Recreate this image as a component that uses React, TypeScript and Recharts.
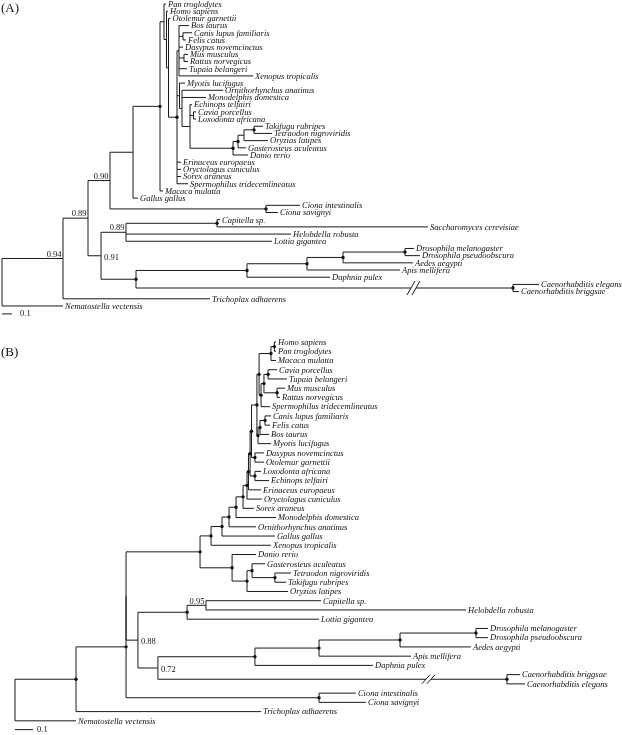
import React from 'react';
import { ScatterChart, Scatter, XAxis, YAxis, ReferenceLine } from 'recharts';

type Tip = [string, string, number];
type Inner = [string, string | null, number];

// ---------- Tree (A): tips in display order [name, parent node, depth from root] ----------
const taxaA: Tip[] = [
  ['Pan troglodytes', 'n164', 1.64],
  ['Homo sapiens', 'nX', 1.66],
  ['Otolemur garnettii', 'nY', 1.685],
  ['Bos taurus', 'n180', 1.87],
  ['Canis lupus familiaris', 'nCF', 1.9],
  ['Felis catus', 'nCF', 1.84],
  ['Dasypus novemcinctus', 'n180', 1.81],
  ['Mus musculus', 'nMR', 1.86],
  ['Rattus norvegicus', 'nMR', 1.86],
  ['Tupaia belangeri', 'n180', 1.85],
  ['Xenopus tropicalis', 'n180', 2.51],
  ['Myotis lucifugus', 'nM', 1.83],
  ['Ornithorhynchus anatinus', 'nO', 2.21],
  ['Monodelphis domestica', 'nO', 2.04],
  ['Echinops telfairi', 'nE', 1.9],
  ['Cavia porcellus', 'nCL', 1.94],
  ['Loxodonta africana', 'nCL', 1.94],
  ['Takifugu rubripes', 'nTT', 2.61],
  ['Tetraodon nigroviridis', 'nTT', 2.7],
  ['Oryzias latipes', 'nO2', 2.66],
  ['Gasterosteus aculeatus', 'nG2', 2.44],
  ['Danio rerio', 'nFish', 2.46],
  ['Erinaceus europaeus', 'n176', 1.79],
  ['Oryctolagus cuniculus', 'n176', 1.79],
  ['Sorex araneus', 'n176', 1.79],
  ['Spermophilus tridecemlineatus', 'n176', 1.86],
  ['Macaca mulatta', 'n160', 1.61],
  ['Gallus gallus', 'nVert', 1.36],
  ['Ciona intestinalis', 'nCiona', 2.98],
  ['Ciona savignyi', 'nCiona', 2.76],
  ['Capitella sp.', 'nCS', 2.18],
  ['Saccharomyces cerevisiae', 'nCS', 4.26],
  ['Helobdella robusta', 'n089b', 2.89],
  ['Lottia gigantea', 'n089b', 2.7],
  ['Drosophila melanogaster', 'nDros', 4.12],
  ['Drosophila pseudoobscura', 'nDros', 4.18],
  ['Aedes aegypti', 'nDip', 4.11],
  ['Apis mellifera', 'n307', 3.98],
  ['Daphnia pulex', 'nArth', 3.28],
  ['Caenorhabditis elegans', 'nNem', 5.37],
  ['Caenorhabditis briggsae', 'nNem', 5.17],
  ['Trichoplax adhaerens', 'n094', 2.08],
  ['Nematostella vectensis', 'rootA', 0.61],
];

// internal nodes [id, parent, depth]
const nodesA: Inner[] = [
  ['rootA', null, 0],
  ['n094', 'rootA', 0.61],
  ['n089', 'n094', 0.86],
  ['n090', 'n089', 1.08],
  ['nVert', 'n090', 1.31],
  ['n160', 'nVert', 1.58],
  ['n164', 'n160', 1.62],
  ['nX', 'n164', 1.645],
  ['nY', 'nX', 1.665],
  ['n176', 'nY', 1.75],
  ['n180', 'n176', 1.77],
  ['nCF', 'n180', 1.81],
  ['nMR', 'n180', 1.82],
  ['nM', 'n176', 1.775],
  ['nO', 'nM', 1.8],
  ['nE', 'nO', 1.88],
  ['nCL', 'nE', 1.915],
  ['nFish', 'nE', 2.31],
  ['nG2', 'nFish', 2.36],
  ['nO2', 'nG2', 2.42],
  ['nTT', 'nO2', 2.52],
  ['nCiona', 'n090', 2.64],
  ['n091', 'n089', 0.99],
  ['n089b', 'n091', 1.24],
  ['nCS', 'n089b', 2.15],
  ['n136', 'n091', 1.34],
  ['nArth', 'n136', 2.45],
  ['n307', 'nArth', 3.05],
  ['nDip', 'n307', 3.41],
  ['nDros', 'nDip', 4.03],
  ['nNem', 'n136', 5.11],
];

const supportA: [string, string][] = [
  ['n094', '0.94'],
  ['n089', '0.89'],
  ['n090', '0.90'],
  ['n089b', '0.89'],
  ['n091', '0.91'],
];
const dotsA: string[] = ['n160', 'n176', 'nFish', 'nG2', 'nTT', 'nCiona', 'nCS', 'n136', 'nArth', 'n307', 'nDip', 'nDros', 'nNem'];
const breakA: [string, number] = ['nNem', 4.115];

// ---------- Tree (B) ----------
const taxaB: Tip[] = [
  ['Homo sapiens', 'nBHP', 1.45],
  ['Pan troglodytes', 'nBHP', 1.45],
  ['Macaca mulatta', 'nBHPM', 1.45],
  ['Cavia porcellus', 'nBCT', 1.456],
  ['Tupaia belangeri', 'nBCT', 1.511],
  ['Mus musculus', 'nBMR', 1.5],
  ['Rattus norvegicus', 'nBMR', 1.472],
  ['Spermophilus tridecemlineatus', 'nBRS', 1.417],
  ['Canis lupus familiaris', 'nBCF', 1.422],
  ['Felis catus', 'nBCF', 1.417],
  ['Bos taurus', 'nBCFB', 1.411],
  ['Myotis lucifugus', 'nBLaur', 1.422],
  ['Dasypus novemcinctus', 'nBDO', 1.383],
  ['Otolemur garnettii', 'nBDO', 1.383],
  ['Loxodonta africana', 'nBLE', 1.367],
  ['Echinops telfairi', 'nBLE', 1.411],
  ['Erinaceus europaeus', 'nBN2p', 1.367],
  ['Oryctolagus cuniculus', 'nBE2', 1.372],
  ['Sorex araneus', 'nBE', 1.328],
  ['Monodelphis domestica', 'nBTh', 1.45],
  ['Ornithorhynchus anatinus', 'nBM', 1.339],
  ['Gallus gallus', 'nBA', 1.444],
  ['Xenopus tropicalis', 'nBT', 1.422],
  ['Danio rerio', 'nBFish', 1.339],
  ['Gasterosteus aculeatus', 'nBF2', 1.389],
  ['Tetraodon nigroviridis', 'nBTT', 1.533],
  ['Takifugu rubripes', 'nBTT', 1.506],
  ['Oryzias latipes', 'nBF1', 1.517],
  ['Capitella sp.', 'nB095', 1.7],
  ['Helobdella robusta', 'nB095', 2.506],
  ['Lottia gigantea', 'nB187', 1.689],
  ['Drosophila melanogaster', 'nBDros', 2.628],
  ['Drosophila pseudoobscura', 'nBDros', 2.628],
  ['Aedes aegypti', 'nBDip', 2.533],
  ['Apis mellifera', 'nBIns', 2.2],
  ['Daphnia pulex', 'nBArth', 1.989],
  ['Caenorhabditis briggsae', 'nBNem', 2.806],
  ['Caenorhabditis elegans', 'nBNem', 2.833],
  ['Ciona intestinalis', 'nBCiona', 1.894],
  ['Ciona savignyi', 'nBCiona', 1.95],
  ['Trichoplax adhaerens', 'nB76', 1.367],
  ['Nematostella vectensis', 'rootB', 0.339],
];

const nodesB: Inner[] = [
  ['rootB', null, 0],
  ['nB76', 'rootB', 0.339],
  ['nB126', 'nB76', 0.617],
  ['nBX', 'nB126', 0.617],
  ['nBV', 'nBX', 1.028],
  ['nBT', 'nBV', 1.089],
  ['nBA', 'nBT', 1.15],
  ['nBM', 'nBA', 1.189],
  ['nBTh', 'nBM', 1.228],
  ['nBE', 'nBTh', 1.267],
  ['nBE2', 'nBE', 1.289],
  ['nBN2p', 'nBE2', 1.297],
  ['nBN2', 'nBN2p', 1.306],
  ['nBN1', 'nBN2', 1.314],
  ['nBBore', 'nBN1', 1.344],
  ['nBPR', 'nBBore', 1.356],
  ['nBHPM', 'nBPR', 1.422],
  ['nBHP', 'nBHPM', 1.441],
  ['nBRS', 'nBPR', 1.367],
  ['nBCTMR', 'nBRS', 1.383],
  ['nBCT', 'nBCTMR', 1.406],
  ['nBMR', 'nBCTMR', 1.456],
  ['nBLaur', 'nBBore', 1.35],
  ['nBCFB', 'nBLaur', 1.361],
  ['nBCF', 'nBCFB', 1.389],
  ['nBDO', 'nBN1', 1.333],
  ['nBLE', 'nBN2', 1.333],
  ['nBFish', 'nBV', 1.206],
  ['nBF1', 'nBFish', 1.289],
  ['nBF2', 'nBF1', 1.317],
  ['nBTT', 'nBF2', 1.444],
  ['nB088', 'nBX', 0.683],
  ['nB187', 'nB088', 0.956],
  ['nB095', 'nB187', 1.061],
  ['nB072', 'nB088', 0.794],
  ['nBArth', 'nB072', 1.333],
  ['nBIns', 'nBArth', 1.689],
  ['nBDip', 'nBIns', 2.139],
  ['nBDros', 'nBDip', 2.561],
  ['nBNem', 'nB072', 2.733],
  ['nBCiona', 'nB126', 1.689],
];

const supportB: [string, string][] = [
  ['nB095', '0.95'],
  ['nB088', '0.88'],
  ['nB072', '0.72'],
];
const dotsB: string[] = [
  'nB76', 'nB126', 'nB187', 'nBV', 'nBT', 'nBA', 'nBM', 'nBTh', 'nBE', 'nBE2', 'nBN2p', 'nBN2', 'nBN1',
  'nBBore', 'nBPR', 'nBHPM', 'nBHP', 'nBRS', 'nBCTMR', 'nBCT', 'nBMR', 'nBLaur', 'nBCFB', 'nBCF', 'nBDO',
  'nBLE', 'nBFish', 'nBF1', 'nBF2', 'nBTT', 'nBArth', 'nBIns', 'nBDip', 'nBDros', 'nBNem', 'nBCiona',
];
const breakB: [string, number] = ['nBNem', 2.297];

const scaleBarLength = 0.1;

// ---------- rendering ----------
const FONT = '"Liberation Serif", "Times New Roman", Times, serif';
const INK = '#1a1a1a';

interface Geo { id: string; x: number; y: number; lo: number; hi: number; parent: string | null; leaf: boolean; kids: string[] }

function buildTree(taxa: Tip[], nodes: Inner[]) {
  const m: Record<string, Geo> = {};
  nodes.forEach(([id, p, d]) => { m[id] = { id, x: d, y: NaN, lo: NaN, hi: NaN, parent: p, leaf: false, kids: [] }; });
  taxa.forEach(([id, p, d], i) => { m[id] = { id, x: d, y: i, lo: i, hi: i, parent: p, leaf: true, kids: [] }; });
  Object.values(m).forEach(n => { if (n.parent) m[n.parent].kids.push(n.id); });
  const place = (id: string): number => {
    const n = m[id];
    if (!isNaN(n.y)) return n.y;
    const ys = n.kids.map(place);
    n.lo = Math.min(...ys);
    n.hi = Math.max(...ys);
    n.y = (n.lo + n.hi) / 2;
    return n.y;
  };
  Object.keys(m).forEach(place);
  const segs: { x1: number; y1: number; x2: number; y2: number }[] = [];
  Object.values(m).forEach(n => {
    if (n.parent) {
      const p = m[n.parent];
      if (p.x !== n.x) segs.push({ x1: p.x, y1: n.y, x2: n.x, y2: n.y });
    }
    if (!n.leaf) segs.push({ x1: n.x, y1: n.lo, x2: n.x, y2: n.hi });
  });
  return { m, segs };
}

interface View { ox: number; kx: number; oy: number; ky: number; w: number; h: number }

interface PanelProps {
  taxa: Tip[];
  nodes: Inner[];
  support: [string, string][];
  rightSide: string[];
  dots: string[];
  brk: [string, number];
  brkH: number;
  view: View;
  barRow: number;
  barDx: number;
}

function TreePanel({ taxa, nodes, support, rightSide, dots, brk, brkH, view, barRow, barDx }: PanelProps) {
  const { m, segs } = buildTree(taxa, nodes);
  const xDom: [number, number] = [-view.ox / view.kx, (view.w - view.ox) / view.kx];
  const yDom: [number, number] = [-view.oy / view.ky, (view.h - view.oy) / view.ky];
  const tips = taxa.map(([name]) => ({ x: m[name].x, y: m[name].y, name }));
  const dotPts = dots.map(id => ({ x: m[id].x, y: m[id].y }));
  const supPts = support.map(([id, v]) => ({ x: m[id].x, y: m[id].y, v, right: rightSide.includes(id) }));
  const brkPts = [{ x: brk[1], y: m[brk[0]].y }];
  const barPts = [{ x: scaleBarLength, y: barRow }];

  return (
    <ScatterChart width={view.w} height={view.h} margin={{ top: 0, right: 0, bottom: 0, left: 0 }} style={{ overflow: 'visible' }}>
      <XAxis type="number" dataKey="x" domain={xDom} hide allowDataOverflow />
      <YAxis type="number" dataKey="y" domain={yDom} hide reversed allowDataOverflow />
      {segs.map((s, i) => (
        <ReferenceLine
          key={i}
          segment={[{ x: s.x1, y: s.y1 }, { x: s.x2, y: s.y2 }]}
          stroke={INK}
          strokeWidth={1}
          ifOverflow="visible"
        />
      ))}
      <ReferenceLine
        segment={[{ x: 0, y: barRow }, { x: scaleBarLength, y: barRow }]}
        stroke={INK}
        strokeWidth={1}
        ifOverflow="visible"
      />
      <Scatter
        data={brkPts}
        isAnimationActive={false}
        shape={(p: any) => {
          const w = 4;
          return (
            <g>
              <rect x={p.cx - 2.5} y={p.cy - 2} width={5} height={4} fill="#fff" />
              <line x1={p.cx - 2.5 - w} y1={p.cy + brkH} x2={p.cx - 2.5 + w} y2={p.cy - brkH} stroke={INK} strokeWidth={1} />
              <line x1={p.cx + 2.5 - w} y1={p.cy + brkH} x2={p.cx + 2.5 + w} y2={p.cy - brkH} stroke={INK} strokeWidth={1} />
            </g>
          );
        }}
      />
      <Scatter
        data={tips}
        isAnimationActive={false}
        shape={(p: any) => (
          <text x={p.cx + 2} y={p.cy} dy="0.33em" fontFamily={FONT} fontStyle="italic" fontSize={8.5} fill="#111">
            {p.payload.name}
          </text>
        )}
      />
      <Scatter
        data={dotPts}
        isAnimationActive={false}
        shape={(p: any) => <circle cx={p.cx} cy={p.cy} r={1.7} fill="#111" />}
      />
      <Scatter
        data={supPts}
        isAnimationActive={false}
        shape={(p: any) =>
          p.payload.right ? (
            <text x={p.cx + 3} y={p.cy + 1} dy="0.33em" fontFamily={FONT} fontSize={8.5} fill="#111">
              {p.payload.v}
            </text>
          ) : (
            <text x={p.cx - 1.5} y={p.cy - 1.8} textAnchor="end" fontFamily={FONT} fontSize={8.5} fill="#111">
              {p.payload.v}
            </text>
          )
        }
      />
      <Scatter
        data={barPts}
        isAnimationActive={false}
        shape={(p: any) => (
          <text x={p.cx + barDx} y={p.cy} dy="0.3em" fontFamily={FONT} fontSize={8.5} fill="#111">
            {String(scaleBarLength)}
          </text>
        )}
      />
    </ScatterChart>
  );
}

export default function App() {
  return (
    <div style={{ position: 'absolute', left: 0, top: 0, width: 622, height: 735, background: '#fff', overflow: 'hidden', filter: 'grayscale(100%)' }}>
      <div style={{ position: 'absolute', left: 0, top: 0 }}>
        <TreePanel
          taxa={taxaA}
          nodes={nodesA}
          support={supportA}
          rightSide={['n091']}
          dots={dotsA}
          brk={breakA}
          brkH={7}
          view={{ ox: 2, kx: 100, oy: 4, ky: 7.19, w: 622, h: 330 }}
          barRow={43.1}
          barDx={8}
        />
      </div>
      <div style={{ position: 'absolute', left: 0, top: 330 }}>
        <TreePanel
          taxa={taxaB}
          nodes={nodesB}
          support={supportB}
          rightSide={['nB088', 'nB072']}
          dots={dotsB}
          brk={breakB}
          brkH={4.5}
          view={{ ox: 15, kx: 180, oy: 12, ky: 9.24, w: 622, h: 405 }}
          barRow={41.95}
          barDx={4}
        />
      </div>
      <div style={{ position: 'absolute', left: 1, top: 1, fontFamily: FONT, fontSize: 13, lineHeight: '13px', color: '#111' }}>(A)</div>
      <div style={{ position: 'absolute', left: 1, top: 345, fontFamily: FONT, fontSize: 13, lineHeight: '13px', color: '#111' }}>(B)</div>
    </div>
  );
}
